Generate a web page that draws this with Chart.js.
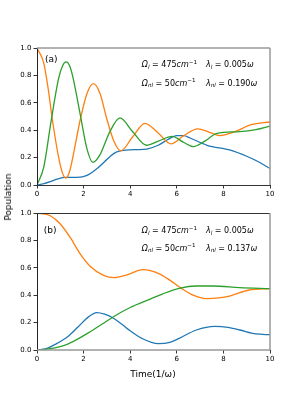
<!DOCTYPE html>
<html><head><meta charset="utf-8">
<script src="https://cdn.jsdelivr.net/npm/chart.js@4/dist/chart.umd.min.js"></script>
<style>
html,body{margin:0;padding:0;background:#fff;width:300px;height:400px;overflow:hidden;}
#wrap{position:relative;width:300px;height:400px;font-family:"DejaVu Sans",sans-serif;}
canvas{position:absolute;left:0;}
#c1{top:0;} #c2{top:200px;}
.tt{position:absolute;font-size:9px;color:#000;white-space:nowrap;}
#xt{left:0;width:306px;text-align:center;top:369px;}
#yt{left:8px;top:197px;transform:translate(-50%,-50%) rotate(-90deg);}
</style></head>
<body><div id="wrap">
<canvas id="c1" width="300" height="200"></canvas>
<canvas id="c2" width="300" height="200"></canvas>
<div class="tt" id="xt">Time(1/ω)</div>
<div class="tt" id="yt">Population</div>
</div>
<script>
// ---- data ----
const xTicks = [0, 2, 4, 6, 8, 10];
const yTicks = [0.0, 0.2, 0.4, 0.6, 0.8, 1.0];
const panelLabels = ["(a)", "(b)"];
const lambdaNL = ["0.190", "0.137"];

// panel (a)
const aBlueT  = [0,0.3,0.57,0.9,1.2,1.72,2.15,2.58,2.9,3.13,3.4,3.8,4.3,4.71,5.2,5.6,6.0,6.3,6.57,7.3,8.3,9.0,9.5,10];
const aBlueV  = [0,0.01,0.024,0.045,0.056,0.056,0.07,0.12,0.17,0.207,0.24,0.255,0.258,0.262,0.29,0.33,0.36,0.36,0.343,0.29,0.255,0.21,0.17,0.12];
const aOrangeT = [0,0.29,0.5,0.64,0.93,1.1,1.245,1.4,1.57,1.86,2.15,2.42,2.7,3.0,3.3,3.6,4.1,4.63,5.2,5.75,6.3,6.9,7.4,7.84,8.5,9.2,10];
const aOrangeV = [1.0,0.89,0.68,0.5,0.2,0.085,0.05,0.1,0.23,0.48,0.67,0.74,0.67,0.48,0.32,0.25,0.35,0.45,0.38,0.30,0.36,0.41,0.385,0.36,0.39,0.44,0.46];
const aGreenT = [0,0.29,0.6,0.93,1.1,1.245,1.4,1.55,1.86,2.15,2.4,2.7,3.13,3.56,4.1,4.7,5.2,5.8,6.3,6.7,7.2,7.7,8.7,9.4,10];
const aGreenV = [0,0.13,0.46,0.78,0.87,0.898,0.87,0.78,0.51,0.26,0.165,0.22,0.39,0.49,0.39,0.29,0.32,0.355,0.31,0.28,0.32,0.375,0.39,0.405,0.43];

// panel (b)
const bBlueT  = [0,0.4,0.77,1.34,1.77,2.2,2.56,2.9,3.3,3.7,4.0,4.5,5.2,5.7,6.1,6.84,7.63,8.2,8.7,9.4,10];
const bBlueV  = [0,0.01,0.04,0.1,0.17,0.24,0.273,0.262,0.23,0.18,0.14,0.085,0.046,0.055,0.085,0.146,0.172,0.165,0.146,0.117,0.112];
const bOrangeT = [0,0.57,1.0,1.43,1.86,2.29,2.86,3.3,3.8,4.56,5.2,5.7,6.2,6.7,7.27,7.8,8.27,9.1,10];
const bOrangeV = [1.0,0.98,0.92,0.82,0.70,0.61,0.545,0.528,0.545,0.586,0.56,0.51,0.45,0.4,0.375,0.38,0.394,0.438,0.448];
const bGreenT = [0,0.5,1.0,1.34,1.8,2.2,2.8,3.3,4.0,4.84,5.4,6.1,6.84,7.56,8.7,10];
const bGreenV = [0,0.008,0.025,0.045,0.085,0.125,0.19,0.245,0.31,0.37,0.41,0.45,0.467,0.467,0.455,0.448];

const BLUE = '#1f77b4', ORANGE = '#ff7f0e', GREEN = '#2ca02c';
const FONT = '"DejaVu Sans", sans-serif';

function pts(t, v){ return t.map((x,i)=>({x:x, y:v[i]})); }
function ds(t, v, color, order){
  return {data: pts(t,v), borderColor: color, borderWidth: 1.3, pointRadius: 0,
    fill:false, cubicInterpolationMode:'monotone', order: order};
}

function mathText(ctx, x, y, parts, size){
  let cx = x;
  for (const p of parts){
    const s = p.sub || p.sup ? size*0.7 : size;
    ctx.font = (p.it ? 'italic ' : '') + s + 'px ' + FONT;
    const dy = p.sub ? size*0.22 : (p.sup ? -size*0.42 : 0);
    ctx.fillText(p.t, cx, y + dy);
    cx += ctx.measureText(p.t).width;
  }
}

function annoPlugin(idx, f){
  return {
    id: 'anno'+idx,
    afterDraw(chart){
      const ctx = chart.ctx, a = chart.chartArea;
      const W = a.right - a.left, H = a.bottom - a.top;
      ctx.save();
      // frame
      ctx.lineWidth = 1;
      ctx.strokeStyle = '#222';
      ctx.beginPath();
      ctx.moveTo(a.left+0.5, a.top); ctx.lineTo(a.left+0.5, a.bottom);
      ctx.stroke();
      ctx.strokeStyle = '#333';
      ctx.beginPath();
      if (idx===0){ ctx.moveTo(a.left, a.bottom+0.5); ctx.lineTo(a.right, a.bottom+0.5);} 
      else { ctx.moveTo(a.left, a.top+0.5); ctx.lineTo(a.right, a.top+0.5);} 
      ctx.stroke();
      ctx.strokeStyle = '#999'; ctx.lineWidth = 1.5;
      ctx.beginPath();
      ctx.moveTo(a.right, a.top); ctx.lineTo(a.right, a.bottom);
      if (idx===0){ ctx.moveTo(a.left, a.top); ctx.lineTo(a.right, a.top);} 
      else { ctx.moveTo(a.left, a.bottom); ctx.lineTo(a.right, a.bottom);} 
      ctx.stroke();
      // texts
      ctx.fillStyle = '#000';
      ctx.textBaseline = 'alphabetic';
      ctx.font = '9px ' + FONT;
      ctx.fillText(panelLabels[idx], a.left + f.lx*W, a.top + f.ly*H);
      const sz = 8;
      const x1 = a.left + 0.45*W, x2 = a.left + 0.725*W;
      const y1 = a.top + f.y1*H, y2 = a.top + f.y2*H;
      mathText(ctx, x1, y1, [{t:'Ω',it:true},{t:'l',it:true,sub:true},{t:' = 475'},{t:'cm',it:true},{t:'−1',sup:true}], sz);
      mathText(ctx, x2, y1, [{t:'λ',it:true},{t:'l',it:true,sub:true},{t:' = 0.005'},{t:'ω',it:true}], sz);
      mathText(ctx, x1, y2, [{t:'Ω',it:true},{t:'nl',it:true,sub:true},{t:' = 50'},{t:'cm',it:true},{t:'−1',sup:true}], sz);
      mathText(ctx, x2, y2, [{t:'λ',it:true},{t:'nl',it:true,sub:true},{t:' = ' + lambdaNL[idx]},{t:'ω',it:true}], sz);
      ctx.restore();
    }
  };
}

function makeChart(id, datasets, pad, idx, f){
  return new Chart(document.getElementById(id), {
    type: 'line',
    data: { datasets: datasets },
    options: {
      responsive: false, animation: false,
      layout: { padding: pad },
      plugins: { legend: {display:false}, tooltip: {enabled:false} },
      scales: {
        x: { type:'linear', min:0, max:10,
          afterBuildTicks(s){ s.ticks = xTicks.map(v=>({value:v})); },
          afterFit(s){ s.height = 12; },
          grid: { drawOnChartArea:false, drawTicks:true, tickLength:3.5, color:'#000', lineWidth:0.8 },
          border: { display:false },
          ticks: { font:{size:7, family:FONT}, color:'#000', padding:1, maxRotation:0, autoSkip:false,
                   callback:(v)=>String(v) }
        },
        y: { min:0, max:1,
          afterBuildTicks(s){ s.ticks = yTicks.map(v=>({value:v})); },
          afterFit(s){ s.width = 37; },
          grid: { drawOnChartArea:false, drawTicks:true, tickLength:3.5, color:'#000', lineWidth:0.8 },
          border: { display:false },
          ticks: { font:{size:7, family:FONT}, color:'#000', padding:2, autoSkip:false,
                   callback:(v)=>Number(v).toFixed(1) }
        }
      }
    },
    plugins: [annoPlugin(idx, f)]
  });
}

makeChart('c1', [ds(aGreenT,aGreenV,GREEN,0), ds(aOrangeT,aOrangeV,ORANGE,1), ds(aBlueT,aBlueV,BLUE,2)],
  {left:0, right:30, top:48, bottom:3}, 0, {lx:0.034, ly:0.099, y1:0.142, y2:0.274});
makeChart('c2', [ds(bGreenT,bGreenV,GREEN,0), ds(bOrangeT,bOrangeV,ORANGE,1), ds(bBlueT,bBlueV,BLUE,2)],
  {left:0, right:30, top:13, bottom:38}, 1, {lx:0.029, ly:0.146, y1:0.146, y2:0.274});
</script>
</body></html>
